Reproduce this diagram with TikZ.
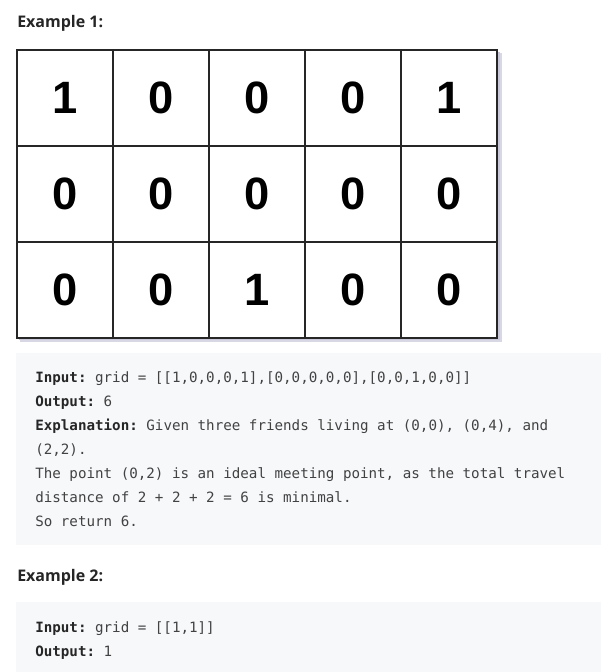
\documentclass[tikz,border=0pt]{standalone}
\usepackage{fontspec}
\setmainfont{Open Sans}
\setmonofont{DejaVu Sans Mono}
\newfontfamily\cellfont{Liberation Sans}
\definecolor{CodeBg}{RGB}{247,248,250}
\definecolor{CodeText}{RGB}{66,66,66}
\definecolor{HeadText}{RGB}{38,38,38}
\definecolor{GridShadow}{RGB}{200,200,218}
\tikzstyle{cell} = [rectangle, draw=black!85, fill=white, line width=1.5pt, minimum size=72pt, inner sep=0pt, font=\cellfont\bfseries\fontsize{34}{34}\selectfont]
\tikzstyle{head} = [anchor=base west, inner sep=0pt, text=HeadText, font=\bfseries\fontsize{12}{14}\selectfont]
\tikzstyle{code} = [anchor=base west, inner sep=0pt, text=CodeText, font=\ttfamily\fontsize{10.65}{12}\selectfont]
\tikzstyle{codebox} = [fill=CodeBg]
\newcommand{\lbl}[1]{{\bfseries\color{HeadText}#1}}

\begin{document}
\begin{tikzpicture}[x=0.75pt, y=-0.75pt]
  \useasboundingbox[fill=white] (0,0) rectangle (601,672);

  \node (ex1) [head] at (17,27) {Example 1:};

  % grid with its shadow
  \fill[GridShadow!70] (20,53) rectangle (502,342);
  \fill[GridShadow] (19,52) rectangle (500,340);
  \foreach \row [count=\r from 0] in {{1,0,0,0,1},{0,0,0,0,0},{0,0,1,0,0}} {
    \foreach \v [count=\c from 0] in \row {
      \node (c\r\c) [cell] at ({65+96*\c},{98+96*\r}) {\v};
    }
  }

  \fill[codebox] (16,353) rectangle (601,545);
  \node (in1) [code] at (35,382) {\lbl{Input:} grid = [[1,0,0,0,1],[0,0,0,0,0],[0,0,1,0,0]]};
  \node (out1) [code] at (35,406) {\lbl{Output:} 6};
  \node (expl) [code] at (35,430) {\lbl{Explanation:} Given three friends living at (0,0), (0,4), and};
  \node (expl2) [code] at (35,454) {(2,2).};
  \node (expl3) [code] at (35,478) {The point (0,2) is an ideal meeting point, as the total travel};
  \node (expl4) [code] at (35,502) {distance of 2 + 2 + 2 = 6 is minimal.};
  \node (expl5) [code] at (35,526) {So return 6.};

  \node (ex2) [head] at (17,581) {Example 2:};

  \fill[codebox] (16,602) rectangle (601,672);
  \node (in2) [code] at (35,632) {\lbl{Input:} grid = [[1,1]]};
  \node (out2) [code] at (35,656) {\lbl{Output:} 1};

\end{tikzpicture}
\end{document}
